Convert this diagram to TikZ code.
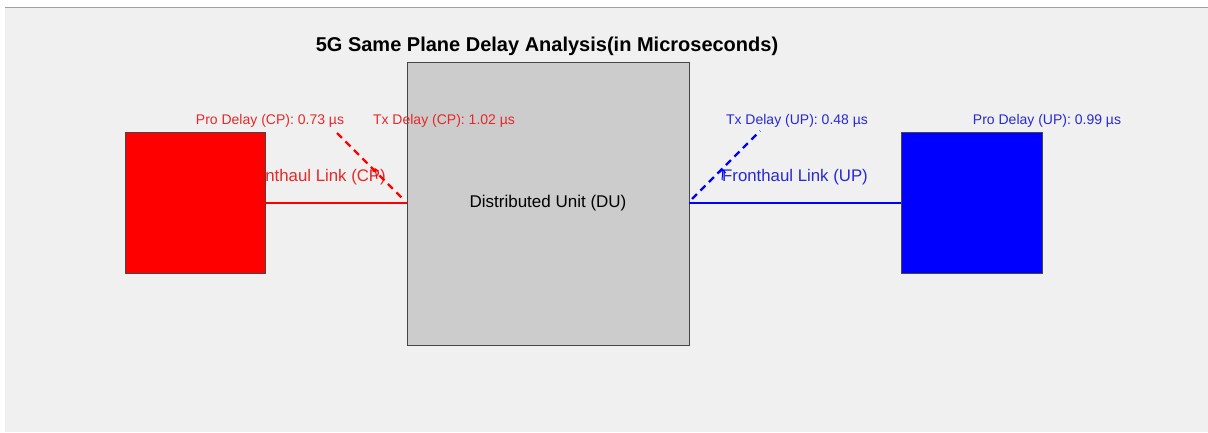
\documentclass[tikz,border=0pt]{standalone}
\usepackage{fontspec}
\setmainfont{Liberation Sans}
\usetikzlibrary{arrows.meta}
\definecolor{panel}{RGB}{240,240,240}
\definecolor{rule}{RGB}{160,160,160}
\definecolor{dufill}{RGB}{204,204,204}
\definecolor{edge}{RGB}{70,70,70}
\definecolor{cptext}{RGB}{230,40,40}
\definecolor{uptext}{RGB}{40,40,215}
\tikzset{
  unitbox/.style={draw=edge, line width=0.9pt, inner sep=0pt, outer sep=0pt},
  link/.style={line width=2.4pt},
  delayline/.style={line width=2.2pt, dash pattern=on 7pt off 5pt},
  delaylabel/.style={font=\fontsize{14}{16}\selectfont, inner sep=0pt},
  linklabel/.style={font=\fontsize{16.8}{19}\selectfont, inner sep=0pt},
  tick/.style={line width=1pt, -{Straight Barb[length=3pt,width=6pt]}}
}
\begin{document}
\begin{tikzpicture}[x=1pt,y=-1pt]
  \useasboundingbox (0,0) rectangle (1208,432);
  % figure background
  \fill[white] (0,0) rectangle (1208,432);
  \fill[panel] (5,8) rectangle (1208,432);
  \draw[rule, line width=1.5pt] (5,7.5) -- (1208,7.5);

  % title
  \node[font=\bfseries\fontsize{20}{23}\selectfont, inner sep=0pt] (title) at (547,46)
    {5G Same Plane Delay Analysis(in Microseconds)};

  % link labels (the CP label sits partly behind the CP unit)
  \node[linklabel, text=cptext] (cplink) at (313,177) {Fronthaul Link (CP)};
  \node[linklabel, text=uptext] (uplink) at (795,177) {Fronthaul Link (UP)};

  % units
  \node[unitbox, fill=red, minimum width=140pt, minimum height=141pt] (cp) at (195,202.5) {};
  \node[unitbox, fill=dufill, minimum width=282pt, minimum height=283pt,
        font=\fontsize{17}{19}\selectfont] (du) at (548,203.5) {Distributed Unit (DU)};
  \node[unitbox, fill=blue, minimum width=141pt, minimum height=141pt] (up) at (971.5,202.5) {};

  % fronthaul links
  \draw[link, red] (cp.east |- 0,203) -- (du.west |- 0,203);
  \draw[link, blue] (du.east |- 0,203) -- (up.west |- 0,203);

  % delay labels
  \node[delaylabel, text=cptext] (cppro) at (270,121) {Pro Delay (CP): 0.73 µs};
  \node[delaylabel, text=cptext] (cptx) at (444,121) {Tx Delay (CP): 1.02 µs};
  \node[delaylabel, text=uptext] (uptx) at (797,121) {Tx Delay (UP): 0.48 µs};
  \node[delaylabel, text=uptext] (uppro) at (1047,121) {Pro Delay (UP): 0.99 µs};

  % transmission delay indicators
  \coordinate (cpa) at (337,133);
  \coordinate (cpb) at (404,200);
  \coordinate (upa) at (692,199);
  \coordinate (upb) at (760,131);
  \draw[delayline, red] (cpa) -- (cpb);
  \draw[delayline, blue] (upa) -- (upb);

  % small pointers on the link labels
  \coordinate (cpt0) at (377,179);
  \coordinate (cpt1) at (375,168);
  \coordinate (upt0) at (722,180);
  \coordinate (upt1) at (723,169);
  \draw[tick, red] (cpt0) -- (cpt1);
  \draw[tick, blue] (upt0) -- (upt1);
\end{tikzpicture}
\end{document}
